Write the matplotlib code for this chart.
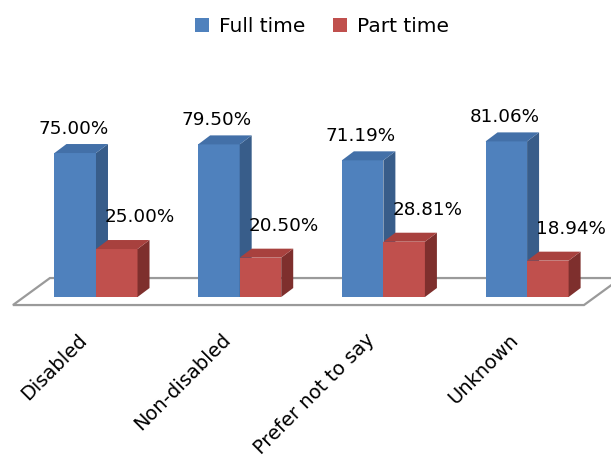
import matplotlib
matplotlib.use("Agg")
import matplotlib.pyplot as plt
from matplotlib.patches import Polygon, Patch

categories = ["Disabled", "Non-disabled", "Prefer not to say", "Unknown"]
full_time = [75.00, 79.50, 71.19, 81.06]
part_time = [25.00, 20.50, 28.81, 18.94]
series_names = ["Full time", "Part time"]

# face colours: front, side, top
blue = ("#4F81BD", "#385D8A", "#4370A8")
red = ("#C0504D", "#7E2F2D", "#A8413E")

plt.rcParams["font.family"] = ["DejaVu Sans"]

fig = plt.figure(figsize=(6.11, 4.61), dpi=100)
ax = fig.add_axes([0, 0, 1, 1])
ax.axis("off")
ax.set_xlim(-0.668, 3.584)
ax.set_ylim(-85.4, 154.7)

W = 0.289          # bar width (category units)
DX, DY = 0.0835, 4.69   # bar depth offset

# floor
fx0, fx1, fy = -0.578, 3.396, -4.17
fdx, fdy = 0.2575, 14.06
ax.add_patch(Polygon([(fx0, fy), (fx1, fy), (fx1 + fdx, fy + fdy), (fx0 + fdx, fy + fdy)],
                     closed=True, facecolor="white", edgecolor="#9a9a9a", lw=1.6, zorder=1))


def bar3d(x0, h, cols):
    front, side, top = cols
    x1 = x0 + W
    ax.add_patch(Polygon([(x0, 0), (x1, 0), (x1, h), (x0, h)], closed=True,
                         facecolor=front, edgecolor="none", zorder=2))
    ax.add_patch(Polygon([(x1, 0), (x1 + DX, DY), (x1 + DX, h + DY), (x1, h)], closed=True,
                         facecolor=side, edgecolor="none", zorder=2))
    ax.add_patch(Polygon([(x0, h), (x1, h), (x1 + DX, h + DY), (x0 + DX, h + DY)], closed=True,
                         facecolor=top, edgecolor="none", zorder=2))


for i, (f, p) in enumerate(zip(full_time, part_time)):
    bar3d(i - W, f, blue)
    bar3d(i, p, red)
    ax.text(i - W / 2 - 0.014, f + 12.5, f"{f:.2f}%", ha="center", va="center",
            fontsize=13.2, color="#000000", zorder=3)
    ax.text(i + W / 2 + 0.16, p + 16.7, f"{p:.2f}%", ha="center", va="center",
            fontsize=13.2, color="#000000", zorder=3)
    ax.text(i - 0.083, -20.8, categories[i], rotation=45, rotation_mode="anchor",
            ha="right", va="center", fontsize=14, color="#000000", zorder=3)

handles = [Patch(facecolor=blue[0], edgecolor="none"), Patch(facecolor=red[0], edgecolor="none")]
fig.legend(handles, series_names, loc="center", bbox_to_anchor=(322 / 611, 1 - 27 / 461),
           ncol=2, frameon=False, fontsize=14.5, handlelength=0.7, handleheight=0.7,
           handletextpad=0.5, columnspacing=1.4, borderpad=0)

fig.savefig("out.png", dpi=100)
